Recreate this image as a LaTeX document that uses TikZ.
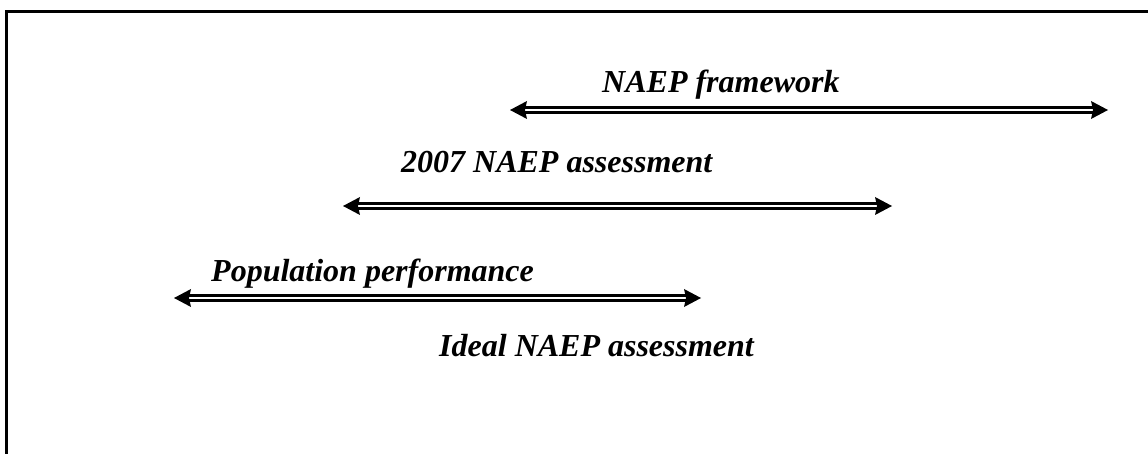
\documentclass[tikz,border=0pt]{standalone}
\usepackage{fontspec}
\setmainfont{Liberation Serif}
\usetikzlibrary{calc}
\begin{document}
\begin{tikzpicture}[x=1pt,y=-1pt,
  lbl/.style={anchor=base west,inner sep=0pt,font=\fontsize{32}{37}\selectfont\bfseries\itshape},
  dbl/.style={draw=black,line width=2.6pt,double=white,double distance=2.4pt},
  frame/.style={line width=2.5pt}]
\useasboundingbox (0,0) rectangle (1148,454);
\draw[frame] (6.5,454) -- (6.5,11.5) -- (1148,11.5);
\node[lbl] (t1) at (602,93) {NAEP framework};
\node[lbl] (t2) at (401,173) {2007 NAEP assessment};
\node[lbl] (t3) at (211,281) {Population performance};
\node[lbl] (t4) at (439,356) {Ideal NAEP assessment};
\coordinate (aL) at (510,110); \coordinate (aR) at (1108,110);
\coordinate (bL) at (343,206); \coordinate (bR) at (892,206);
\coordinate (cL) at (174,298); \coordinate (cR) at (701,298);
\foreach \l/\r in {aL/aR,bL/bR,cL/cR}{
  \draw[dbl] ($(\l)+(12,0)$) -- ($(\r)+(-12,0)$);
  \fill (\l) -- ($(\l)+(17,-9)$) -- ($(\l)+(15,0)$) -- ($(\l)+(17,9)$) -- cycle;
  \fill (\r) -- ($(\r)+(-17,-9)$) -- ($(\r)+(-15,0)$) -- ($(\r)+(-17,9)$) -- cycle;
}
\end{tikzpicture}
\end{document}
